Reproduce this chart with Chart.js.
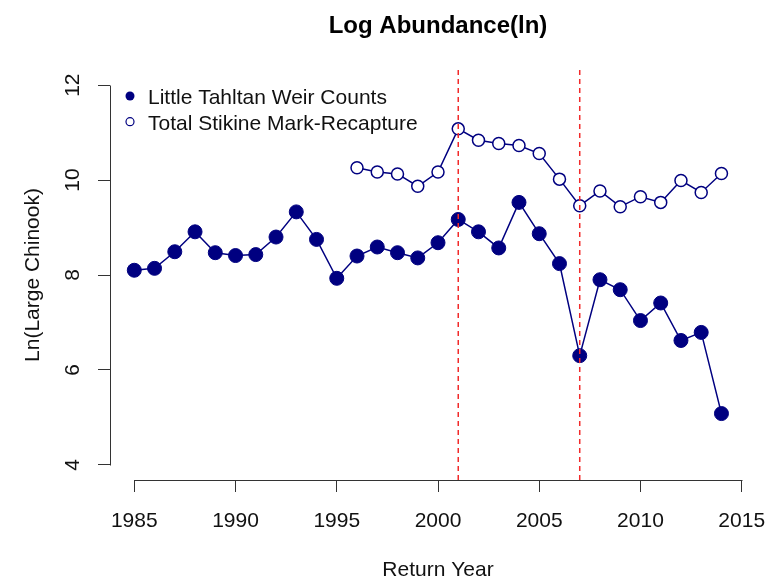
<!DOCTYPE html>
<html><head><meta charset="utf-8">
<script src="https://cdn.jsdelivr.net/npm/chart.js@4.4.1/dist/chart.umd.min.js"></script>
<style>html,body{margin:0;padding:0;background:#fff}canvas{display:block}</style>
</head><body>
<canvas id="c" width="767" height="582"></canvas>
<script>
// ---- data ----
const weirYears = [1985,1986,1987,1988,1989,1990,1991,1992,1993,1994,1995,1996,1997,1998,1999,2000,2001,2002,2003,2004,2005,2006,2007,2008,2009,2010,2011,2012,2013,2014];
const weirCounts = [8.10,8.14,8.49,8.91,8.47,8.41,8.43,8.80,9.33,8.75,7.93,8.40,8.59,8.47,8.36,8.68,9.17,8.91,8.57,9.53,8.87,8.24,6.30,7.90,7.69,7.04,7.41,6.62,6.79,5.08];
const markYears = [1996,1997,1998,1999,2000,2001,2002,2003,2004,2005,2006,2007,2008,2009,2010,2011,2012,2013,2014];
const markRecapture = [10.26,10.17,10.13,9.87,10.17,11.08,10.84,10.77,10.73,10.56,10.02,9.46,9.77,9.44,9.65,9.53,9.99,9.74,10.14];
const breakYears = [2001, 2007];
const xTicks = [1985,1990,1995,2000,2005,2010,2015];
const yTicks = [4,6,8,10,12];
const seriesNames = ['Little Tahltan Weir Counts', 'Total Stikine Mark-Recapture'];
const chartTitle = 'Log Abundance(ln)';
const xTitle = 'Return Year';
const yTitle = 'Ln(Large Chinook)';
const xLimits = [1983.8, 2016.2];
const yLimits = [3.68, 12.32];

// ---- style ----
const NAVY = '#000080';
const FONT = "'Liberation Sans', Arial, sans-serif";
const AXIS = '#333333';

const pts = (xs, ys) => xs.map((x, i) => ({x, y: ys[i]}));

const datasets = breakYears.map(yr => ({
  label: 'break ' + yr,
  data: [{x: yr, y: yLimits[0]}, {x: yr, y: yLimits[1]}],
  borderColor: '#f22a2a', borderWidth: 1.5, borderDash: [5, 4],
  pointRadius: 0, showLine: true, legend: false, order: 0
}));
datasets.push({
  label: seriesNames[0], data: pts(weirYears, weirCounts),
  borderColor: NAVY, borderWidth: 1.5, showLine: true,
  pointRadius: 7, pointBackgroundColor: NAVY, pointBorderColor: NAVY, pointBorderWidth: 1,
  legend: true, filled: true, order: 2
});
datasets.push({
  label: seriesNames[1], data: pts(markYears, markRecapture),
  borderColor: NAVY, borderWidth: 1.5, showLine: true,
  pointRadius: 6, pointBackgroundColor: '#ffffff', pointBorderColor: NAVY, pointBorderWidth: 1.5,
  legend: true, filled: false, order: 1
});

const zeroX = s => { s.paddingLeft = 0; s.paddingRight = 0; };
const zeroY = s => { s.paddingTop = 0; s.paddingBottom = 0; };

const decor = {
  id: 'decor',
  afterDraw(chart) {
    const ctx = chart.ctx, ca = chart.chartArea;
    const xs = chart.scales.x, ys = chart.scales.y;
    ctx.save();
    // axis lines spanning the tick range (R style)
    ctx.strokeStyle = AXIS; ctx.lineWidth = 1;
    ctx.beginPath();
    const lx = Math.round(ca.left) + 0.5;
    ctx.moveTo(lx, Math.round(ys.getPixelForValue(yTicks[0])) + 0.5);
    ctx.lineTo(lx, Math.round(ys.getPixelForValue(yTicks[yTicks.length - 1])) + 0.5);
    const by = Math.round(ca.bottom) + 0.5;
    ctx.moveTo(Math.round(xs.getPixelForValue(xTicks[0])) + 0.5, by);
    ctx.lineTo(Math.round(xs.getPixelForValue(xTicks[xTicks.length - 1])) + 0.5, by);
    ctx.stroke();
    // main title
    ctx.fillStyle = '#000';
    ctx.font = 'bold 24px ' + FONT;
    ctx.textAlign = 'center'; ctx.textBaseline = 'alphabetic';
    ctx.fillText(chartTitle, (ca.left + ca.right) / 2, 33);
    // legend
    const items = chart.data.datasets.filter(d => d.legend);
    ctx.font = '21px ' + FONT;
    ctx.textAlign = 'left';
    items.forEach((d, i) => {
      const cy = 96 + i * 25.7;
      ctx.beginPath();
      ctx.arc(130, cy, d.filled ? 4.5 : 4, 0, Math.PI * 2);
      if (d.filled) { ctx.fillStyle = NAVY; ctx.fill(); }
      else { ctx.fillStyle = '#fff'; ctx.fill(); ctx.strokeStyle = NAVY; ctx.lineWidth = 1.2; ctx.stroke(); }
      ctx.fillStyle = '#111';
      ctx.fillText(d.label, 148, cy + 8);
    });
    ctx.restore();
  }
};

new Chart(document.getElementById('c'), {
  type: 'scatter',
  data: { datasets },
  options: {
    responsive: false, animation: false, devicePixelRatio: 1,
    layout: { autoPadding: false, padding: { top: 70, right: 1, bottom: 0, left: 0 } },
    plugins: { legend: { display: false }, tooltip: { enabled: false }, title: { display: false } },
    scales: {
      x: {
        type: 'linear', min: xLimits[0], max: xLimits[1],
        afterBuildTicks: s => { s.ticks = xTicks.map(v => ({value: v})); },
        afterFit: s => { s.height = 102; zeroX(s); },
        afterUpdate: zeroX,
        grid: { drawOnChartArea: false, drawTicks: true, tickLength: 12, color: AXIS, lineWidth: 1 },
        border: { display: false },
        ticks: { callback: v => String(v), font: { family: FONT, size: 21 }, color: '#111', padding: 17, maxRotation: 0, autoSkip: false },
        title: { display: true, text: xTitle, font: { family: FONT, size: 21, lineHeight: 1 }, color: '#111', padding: { top: 0, bottom: 1.5 } }
      },
      y: {
        type: 'linear', min: yLimits[0], max: yLimits[1],
        afterBuildTicks: s => { s.ticks = yTicks.map(v => ({value: v})); },
        afterFit: s => { s.width = 110; zeroY(s); },
        afterUpdate: zeroY,
        grid: { drawOnChartArea: false, drawTicks: true, tickLength: 12, color: AXIS, lineWidth: 1 },
        border: { display: false },
        ticks: { callback: v => String(v), font: { family: FONT, size: 21 }, color: '#111', padding: 13, minRotation: 90, maxRotation: 90, crossAlign: 'center', autoSkip: false },
        title: { display: true, text: yTitle, font: { family: FONT, size: 21, lineHeight: 1 }, color: '#111', padding: { top: 22.5, bottom: 0 } }
      }
    }
  },
  plugins: [decor]
});
</script>
</body></html>
